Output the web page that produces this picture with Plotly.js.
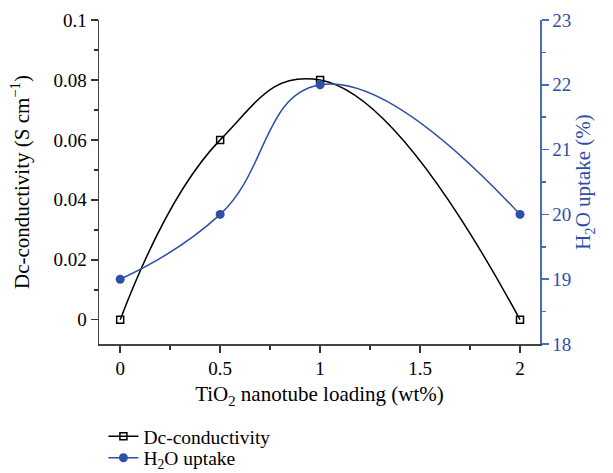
<!DOCTYPE html>
<html><head><meta charset="utf-8">
<script src="https://cdn.plot.ly/plotly-3.0.1.min.js"></script>
<style>html,body{margin:0;padding:0;background:#fff}</style>
</head><body>
<div id="chart" style="width:613px;height:473px"></div>
<script>
const loading = [0, 0.5, 1, 2];
const conductivity = [0, 0.06, 0.08, 0];
const waterUptake = [19, 20, 22, 20];

const BLUE = '#2f4fa6';
const AXBLUE = '#4a6cbf';
const FONT = 'Liberation Serif, Times New Roman, serif';

const traces = [
  {x: loading, y: conductivity, name: 'Dc-conductivity', type: 'scatter', mode: 'lines+markers',
   line: {color: '#000', width: 1.5, shape: 'spline', smoothing: 1.3},
   marker: {symbol: 'square-open', size: 7, color: '#000', line: {width: 1.5}},
   xaxis: 'x', yaxis: 'y', legend: 'legend'},
  {x: loading, y: waterUptake, name: 'H<sub>2</sub>O uptake', type: 'scatter', mode: 'lines+markers',
   line: {color: BLUE, width: 1.5, shape: 'spline', smoothing: 1.3},
   marker: {symbol: 'circle', size: 9, color: BLUE},
   xaxis: 'x', yaxis: 'y2', legend: 'legend2'}
];

const legendBase = {x: 0.01, xanchor: 'left', yanchor: 'middle', font: {size: 19.5},
                    itemwidth: 30, bgcolor: 'rgba(0,0,0,0)', borderwidth: 0};

const layout = {
  width: 613, height: 473,
  margin: {l: 99, r: 73, t: 20, b: 129, autoexpand: false},
  paper_bgcolor: '#fff', plot_bgcolor: '#fff',
  font: {family: FONT, size: 19, color: '#000'},
  showlegend: true,
  legend: Object.assign({}, legendBase, {y: -0.286}),
  legend2: Object.assign({}, legendBase, {y: -0.352}),
  xaxis: {range: [-0.106, 2.1], dtick: 0.5, tick0: 0, ticks: 'outside', ticklen: 7, tickwidth: 1.5,
          tickcolor: '#333', showline: true, linecolor: '#444', linewidth: 1.5, zeroline: false,
          showgrid: false, minor: {dtick: 0.25, ticklen: 4, tickwidth: 1.5, tickcolor: '#333', ticks: 'outside', showgrid: false},
          title: {text: 'TiO<sub>2</sub> nanotube loading (wt%)', standoff: 8, font: {size: 21}}},
  xaxis2: {range: [-0.106, 2.1], overlaying: 'x', anchor: 'y', side: 'top', dtick: 0.5, tick0: 0,
           ticks: 'inside', ticklen: 7, tickwidth: 1.5, tickcolor: '#333', showticklabels: false,
           showline: true, linecolor: '#444', linewidth: 1.5, zeroline: false, showgrid: false,
           minor: {dtick: 0.25, ticklen: 4, tickwidth: 1.5, tickcolor: '#333', ticks: 'inside', showgrid: false}},
  yaxis: {range: [-0.0081, 0.1], dtick: 0.02, tick0: 0, ticks: 'outside', ticklen: 7, tickwidth: 1.5,
          tickcolor: '#333', showline: true, linecolor: '#444', linewidth: 1.5, zeroline: false, showgrid: false,
          minor: {dtick: 0.01, ticklen: 4, tickwidth: 1.5, tickcolor: '#333', ticks: 'outside', showgrid: false},
          title: {text: 'Dc-conductivity (S cm<sup>\u22121</sup>)', standoff: 18, font: {size: 21}}},
  yaxis2: {range: [18, 23], overlaying: 'y', side: 'right', anchor: 'x', dtick: 1, tick0: 18,
           ticks: 'outside', ticklen: 7, tickwidth: 1.5, tickcolor: AXBLUE, showline: true,
           linecolor: AXBLUE, linewidth: 1.5, zeroline: false, showgrid: false,
           tickfont: {color: BLUE, size: 19},
           minor: {dtick: 0.5, ticklen: 4, tickwidth: 1.5, tickcolor: AXBLUE, ticks: 'outside', showgrid: false},
           title: {text: 'H<sub>2</sub>O uptake (%)', standoff: 5, font: {size: 21, color: BLUE}}}
};

Plotly.newPlot('chart', traces, layout, {displayModeBar: false, staticPlot: true});
</script>
</body></html>
